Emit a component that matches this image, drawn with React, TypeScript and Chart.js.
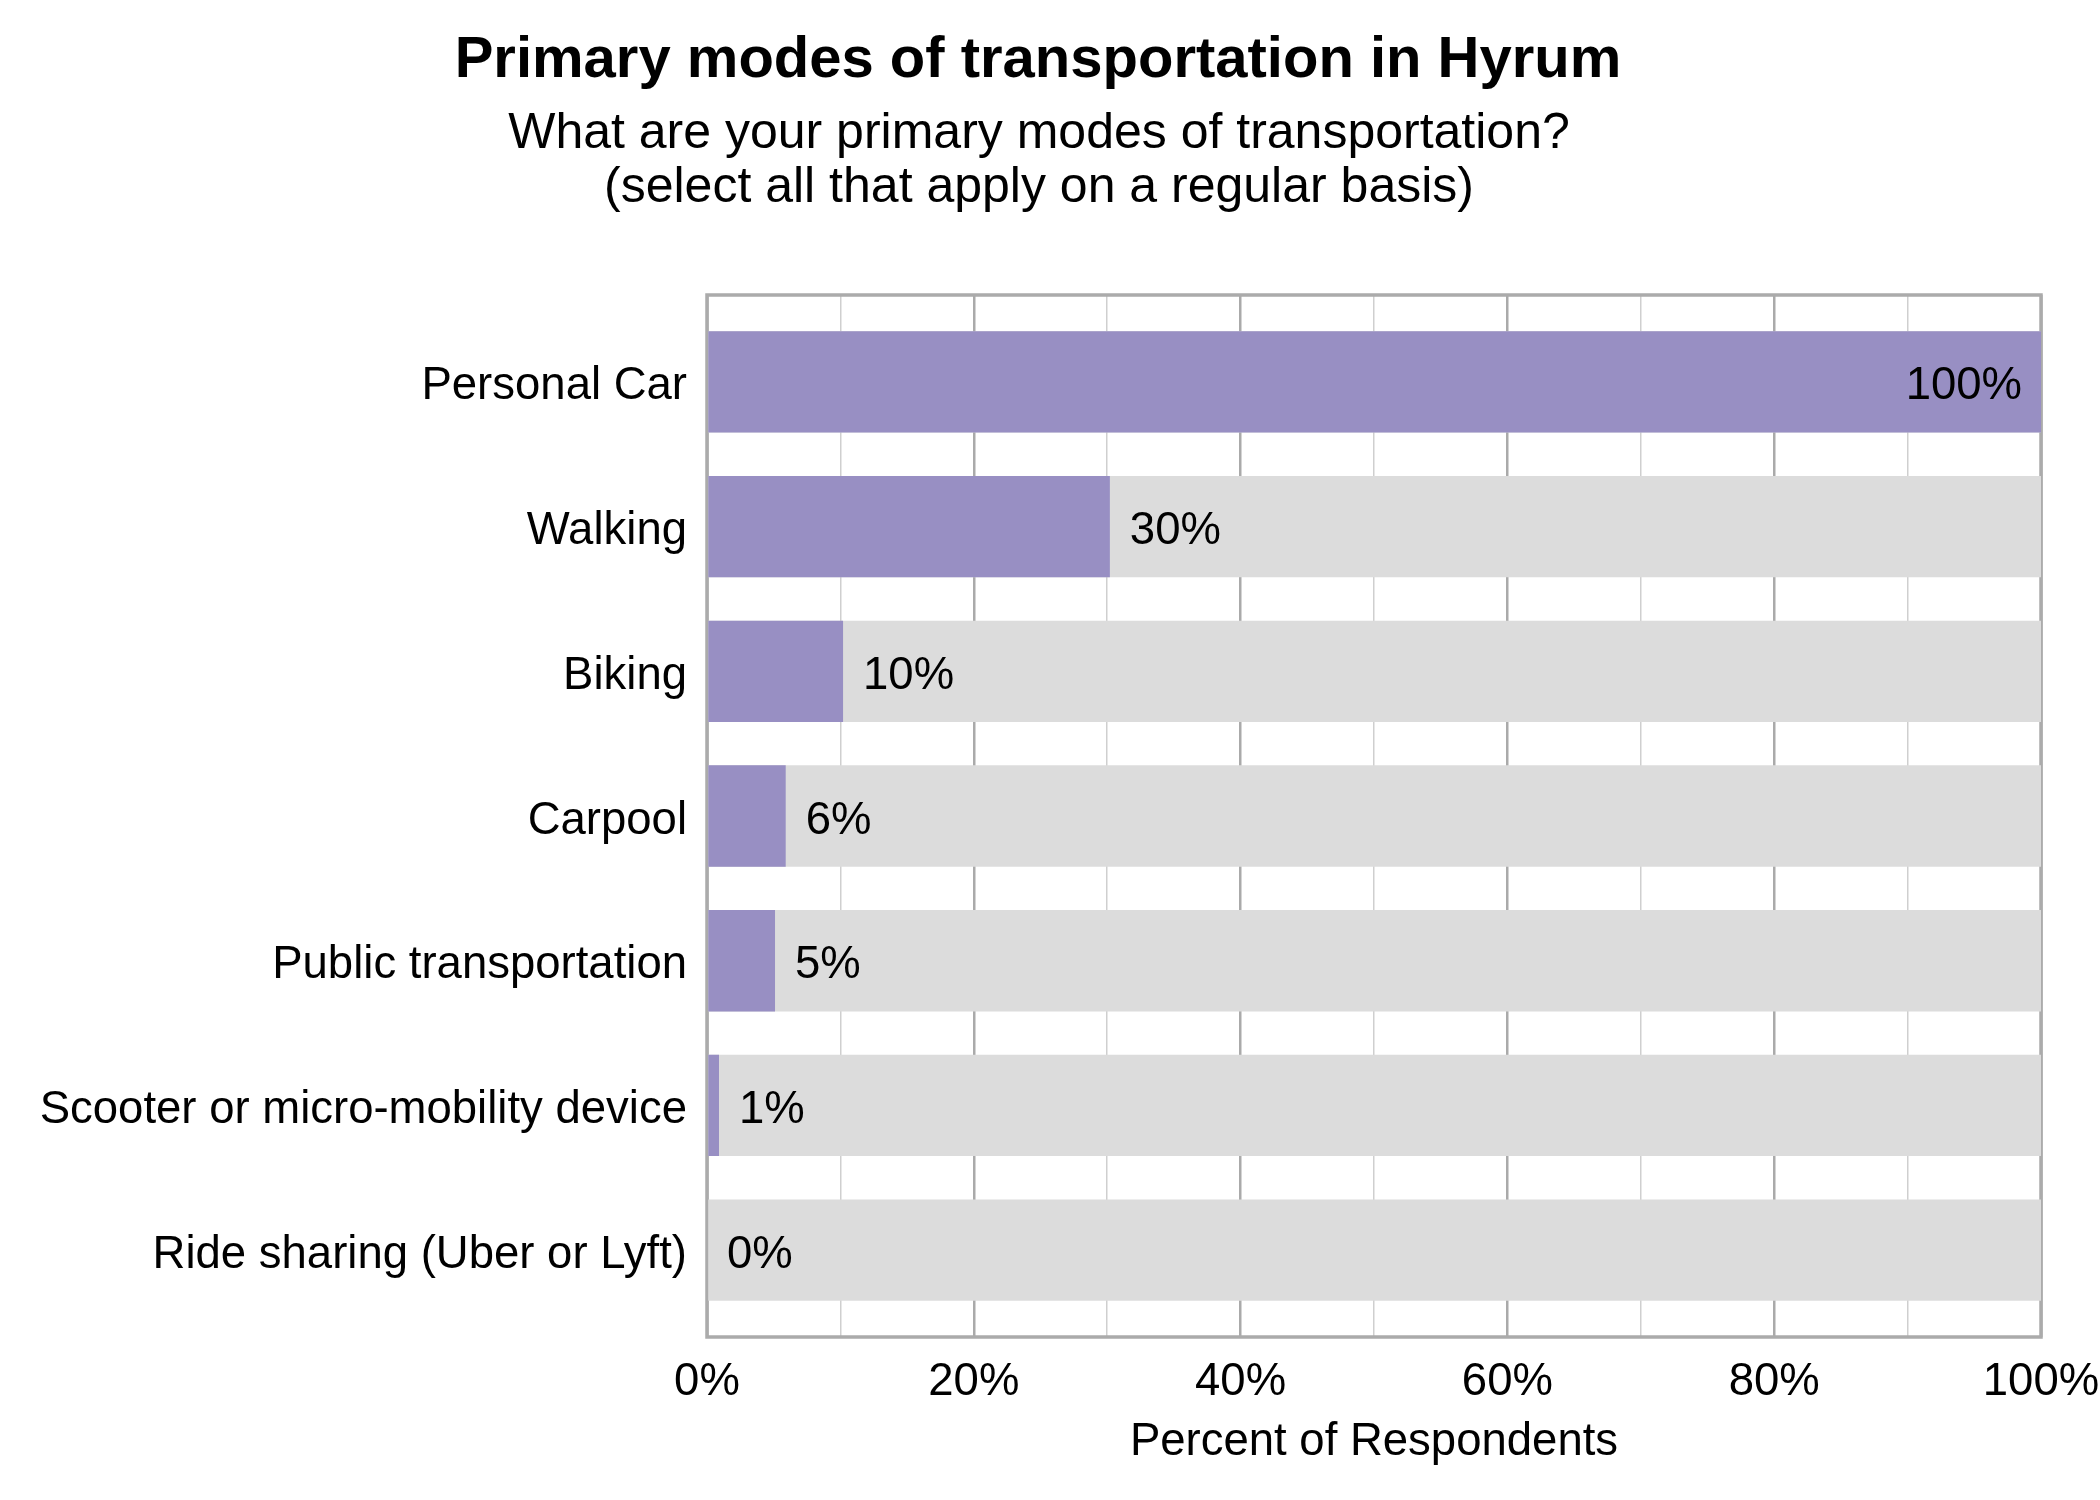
import React, { useEffect, useRef } from "react";
import { Chart, registerables } from "chart.js";

Chart.register(...registerables);

const TITLE = "Primary modes of transportation in Hyrum";
const SUBTITLE_LINES = [
  "What are your primary modes of transportation?",
  "(select all that apply on a regular basis)",
];
const CATEGORIES = [
  "Personal Car",
  "Walking",
  "Biking",
  "Carpool",
  "Public transportation",
  "Scooter or micro-mobility device",
  "Ride sharing (Uber or Lyft)",
];
const PERCENTS = [100, 30.2, 10.2, 5.9, 5.1, 0.9, 0];
const VALUE_LABELS = ["100%", "30%", "10%", "6%", "5%", "1%", "0%"];
const BACKGROUND_TOTALS = [100, 100, 100, 100, 100, 100, 100];
const X_AXIS_TITLE = "Percent of Respondents";

const FONT = "'Liberation Sans', Arial, Helvetica, sans-serif";
const PURPLE = "#988fc3";
const LIGHT_GRAY = "#dcdcdc";
const FRAME = "#ababab";

const W = 2100;
const H = 1500;

export default function App() {
  const ref = useRef<HTMLCanvasElement | null>(null);

  useEffect(() => {
    document.body.style.margin = "0";
    const canvas = ref.current;
    if (!canvas) return;

    const framePlugin = {
      id: "frame",
      beforeDatasetsDraw(chart: any) {
        const { ctx, chartArea } = chart;
        ctx.save();
        ctx.strokeStyle = FRAME;
        ctx.lineWidth = 3.5;
        ctx.strokeRect(
          chartArea.left,
          chartArea.top,
          chartArea.right - chartArea.left,
          chartArea.bottom - chartArea.top
        );
        ctx.restore();
      },
    };

    const labelPlugin = {
      id: "valueLabels",
      afterDatasetsDraw(chart: any) {
        const { ctx } = chart;
        const meta = chart.getDatasetMeta(0);
        ctx.save();
        ctx.font = `45.5px ${FONT}`;
        ctx.fillStyle = "#000";
        ctx.textBaseline = "middle";
        meta.data.forEach((bar: any, i: number) => {
          const v = PERCENTS[i];
          if (v >= 95) {
            ctx.textAlign = "right";
            ctx.fillText(VALUE_LABELS[i], bar.x - 19, bar.y + 5);
          } else {
            ctx.textAlign = "left";
            ctx.fillText(VALUE_LABELS[i], bar.x + 20, bar.y + 5);
          }
        });
        ctx.restore();
      },
    };

    const titlePlugin = {
      id: "titles",
      afterDraw(chart: any) {
        const { ctx, chartArea } = chart;
        ctx.save();
        ctx.fillStyle = "#000";
        ctx.textAlign = "center";
        ctx.textBaseline = "alphabetic";
        ctx.font = `bold 58px ${FONT}`;
        ctx.fillText(TITLE, 1038, 77);
        ctx.font = `50px ${FONT}`;
        ctx.fillText(SUBTITLE_LINES[0], 1039, 148);
        ctx.fillText(SUBTITLE_LINES[1], 1039, 202);
        ctx.font = `45.5px ${FONT}`;
        ctx.fillText(
          X_AXIS_TITLE,
          (chartArea.left + chartArea.right) / 2,
          1455
        );
        ctx.restore();
      },
    };

    const chart = new Chart(canvas, {
      type: "bar",
      data: {
        datasets: [
          {
            label: "Percent",
            data: PERCENTS.map((v, i) => ({ x: v, y: i })),
            backgroundColor: PURPLE,
            borderWidth: 0,
            grouped: false,
            categoryPercentage: 1,
            barPercentage: 0.7,
          } as any,
          {
            label: "Total",
            data: BACKGROUND_TOTALS.map((v, i) => ({ x: v, y: i })),
            backgroundColor: LIGHT_GRAY,
            borderWidth: 0,
            grouped: false,
            categoryPercentage: 1,
            barPercentage: 0.7,
          } as any,
        ],
      },
      options: {
        indexAxis: "y",
        responsive: false,
        animation: false,
        devicePixelRatio: 1,
        layout: { padding: { top: 295, left: 0, right: 0, bottom: 0 } },
        plugins: {
          legend: { display: false },
          tooltip: { enabled: false },
          title: { display: false },
        },
        scales: {
          x: {
            type: "linear",
            position: "bottom",
            min: 0,
            max: 100,
            offset: false,
            border: { display: false },
            grid: {
              drawTicks: false,
              offset: false,
              color: (c: any) =>
                c.tick && c.tick.value % 20 === 0 ? "#aaaaaa" : "#cfcfcf",
              lineWidth: (c: any) =>
                c.tick && c.tick.value % 20 === 0 ? 2.5 : 1.5,
            },
            ticks: {
              stepSize: 10,
              autoSkip: false,
              maxRotation: 0,
              padding: 18,
              color: "#000",
              font: { family: FONT, size: 45.5, lineHeight: 1.2 },
              callback: (v: any) => (Number(v) % 20 === 0 ? `${v}%` : ""),
            },
            title: { display: false },
            afterFit: (scale: any) => {
              scale.height = H - 1337;
              scale.paddingRight = 59;
              scale.paddingLeft = 32;
            },
          },
          y: {
            type: "linear",
            position: "left",
            reverse: true,
            min: -0.6,
            max: 6.6,
            offset: false,
            border: { display: false },
            grid: { display: false, drawTicks: false, offset: false },
            afterBuildTicks: (scale: any) => {
              scale.ticks = CATEGORIES.map((_, i) => ({ value: i }));
            },
            ticks: {
              autoSkip: false,
              padding: 20,
              labelOffset: 5,
              color: "#000",
              font: { family: FONT, size: 45.5, lineHeight: 1.2 },
              callback: (v: any) => CATEGORIES[Number(v)] ?? "",
            },
            afterFit: (scale: any) => {
              scale.width = 707;
            },
          },
        },
      } as any,
      plugins: [framePlugin, labelPlugin, titlePlugin],
    });

    return () => chart.destroy();
  }, []);

  return (
    <div style={{ width: W, height: H }}>
      <canvas ref={ref} width={W} height={H} style={{ display: "block" }} />
    </div>
  );
}
